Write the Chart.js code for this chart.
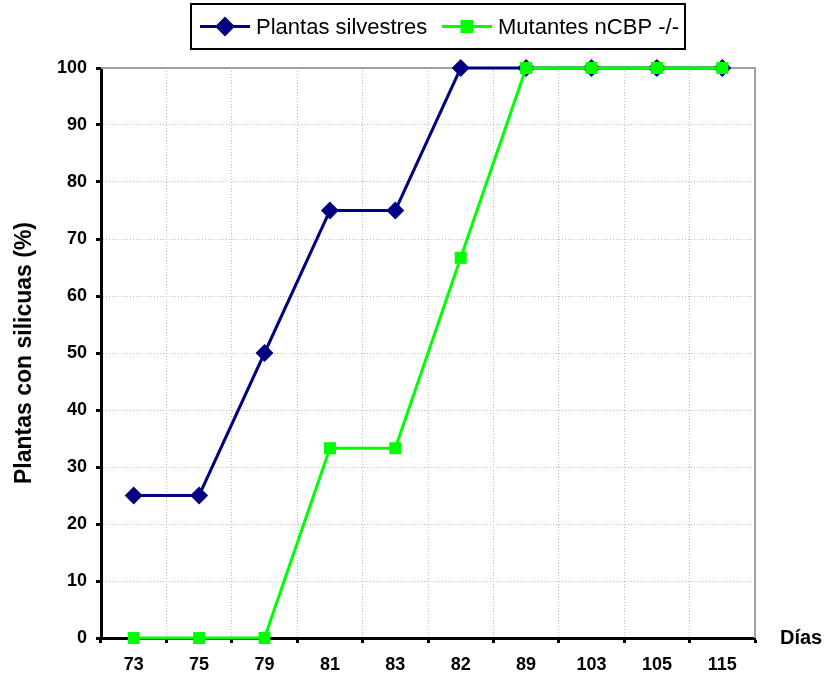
<!DOCTYPE html>
<html>
<head>
<meta charset="utf-8">
<script src="https://cdn.jsdelivr.net/npm/chart.js@4/dist/chart.umd.min.js"></script>
<style>
    html, body { margin: 0; padding: 0; background: #fff; }
    #wrap { width: 833px; height: 679px; }
</style>
</head>
<body>
<div id="wrap"><canvas id="siliquesChart" width="833" height="679"></canvas></div>
<script>
// días de observación y porcentaje de plantas con silicuas
const dias = ['73', '75', '79', '81', '83', '82', '89', '103', '105', '115'];
const silvestres = [25, 25, 50, 75, 75, 100, 100, 100, 100, 100];
const mutantes = [0, 0, 0, 33.3, 33.3, 66.7, 100, 100, 100, 100];
const yTicks = [0, 10, 20, 30, 40, 50, 60, 70, 80, 90, 100];

const NAVY = '#000080';
const LIME = '#00ff00';
const FONT = 'Arial, "Liberation Sans", sans-serif';

// grey frame on top/right, legend box and the "Días" label
const framePlugin = {
    id: 'frame',
    beforeDatasetsDraw(chart) {
        const { ctx, chartArea: a } = chart;
        ctx.save();
        ctx.strokeStyle = '#a0a0a0';
        ctx.lineWidth = 2;
        ctx.beginPath();
        ctx.moveTo(a.left, a.top);
        ctx.lineTo(a.right, a.top);
        ctx.lineTo(a.right, a.bottom);
        ctx.stroke();
        ctx.restore();
    },
    afterDraw(chart) {
        const { ctx, chartArea: a } = chart;
        ctx.save();
        ctx.font = 'bold 20px ' + FONT;
        ctx.fillStyle = '#000';
        ctx.textBaseline = 'middle';
        ctx.fillText('Días', 780, a.bottom);

        // legend
        const bx = 191, by = 4, bw = 494, bh = 45;
        ctx.fillStyle = '#fff';
        ctx.fillRect(bx, by, bw, bh);
        ctx.strokeStyle = '#000';
        ctx.lineWidth = 2;
        ctx.strokeRect(bx, by, bw, bh);
        const cy = by + bh / 2;
        const items = [
            { x: 200, color: NAVY, label: 'Plantas silvestres', marker: 'diamond' },
            { x: 442, color: LIME, label: 'Mutantes nCBP -/-', marker: 'square' }
        ];
        items.forEach(it => {
            ctx.strokeStyle = it.color;
            ctx.lineWidth = 3;
            ctx.beginPath();
            ctx.moveTo(it.x, cy);
            ctx.lineTo(it.x + 50, cy);
            ctx.stroke();
            ctx.fillStyle = it.color;
            const mx = it.x + 25;
            if (it.marker === 'diamond') {
                ctx.beginPath();
                ctx.moveTo(mx, cy - 10);
                ctx.lineTo(mx + 10, cy);
                ctx.lineTo(mx, cy + 10);
                ctx.lineTo(mx - 10, cy);
                ctx.closePath();
                ctx.fill();
            } else {
                ctx.fillRect(mx - 6.5, cy - 6.5, 13, 13);
            }
            ctx.fillStyle = '#000';
            ctx.font = '22px ' + FONT;
            ctx.textBaseline = 'middle';
            ctx.fillText(it.label, it.x + 56, cy + 1);
        });
        ctx.restore();
    }
};

new Chart(document.getElementById('siliquesChart').getContext('2d'), {
    type: 'line',
    data: {
        labels: dias,
        datasets: [
            {
                label: 'Plantas silvestres',
                data: silvestres,
                borderColor: NAVY,
                backgroundColor: NAVY,
                borderWidth: 3,
                pointStyle: 'rectRot',
                pointRadius: 9,
                pointBorderWidth: 0,
                tension: 0,
                clip: false,
                order: 2
            },
            {
                label: 'Mutantes nCBP -/-',
                data: mutantes,
                borderColor: LIME,
                backgroundColor: LIME,
                borderWidth: 3,
                pointStyle: 'rect',
                pointRadius: 8.5,
                pointBorderWidth: 0,
                tension: 0,
                clip: false,
                order: 1
            }
        ]
    },
    options: {
        responsive: false,
        animation: false,
        layout: { padding: { left: 11, right: 78, top: 68, bottom: 0 } },
        plugins: {
            legend: { display: false },
            tooltip: { enabled: false }
        },
        scales: {
            x: {
                offset: true,
                grid: {
                    offset: true,
                    color: '#bdbdbd',
                    lineWidth: 1,
                    drawTicks: true,
                    tickLength: 5,
                    tickColor: '#000',
                    tickWidth: 3
                },
                border: { color: '#000', width: 3, dash: [1, 2] },
                ticks: {
                    color: '#000',
                    font: { family: FONT, size: 18, weight: 'bold' },
                    padding: 11,
                    maxRotation: 0
                },
                afterFit(scale) { scale.height = 41; }
            },
            y: {
                min: 0,
                max: 100,
                afterBuildTicks(scale) { scale.ticks = yTicks.map(v => ({ value: v })); },
                grid: {
                    color: ctx => ctx.tick && ctx.tick.value === 100 ? 'rgba(0,0,0,0)' : '#bdbdbd',
                    lineWidth: 1,
                    drawTicks: true,
                    tickLength: 5,
                    tickColor: '#000',
                    tickWidth: 3
                },
                border: { color: '#000', width: 3, dash: [1, 2] },
                ticks: {
                    color: '#000',
                    font: { family: FONT, size: 18, weight: 'bold' },
                    padding: 9
                },
                title: {
                    display: true,
                    text: 'Plantas con silicuas (%)',
                    color: '#000',
                    font: { family: FONT, size: 23, weight: 'bold' },
                    padding: { top: 0, bottom: 4 }
                },
                afterFit(scale) { scale.width = 90; }
            }
        }
    },
    plugins: [framePlugin]
});
</script>
</body>
</html>
